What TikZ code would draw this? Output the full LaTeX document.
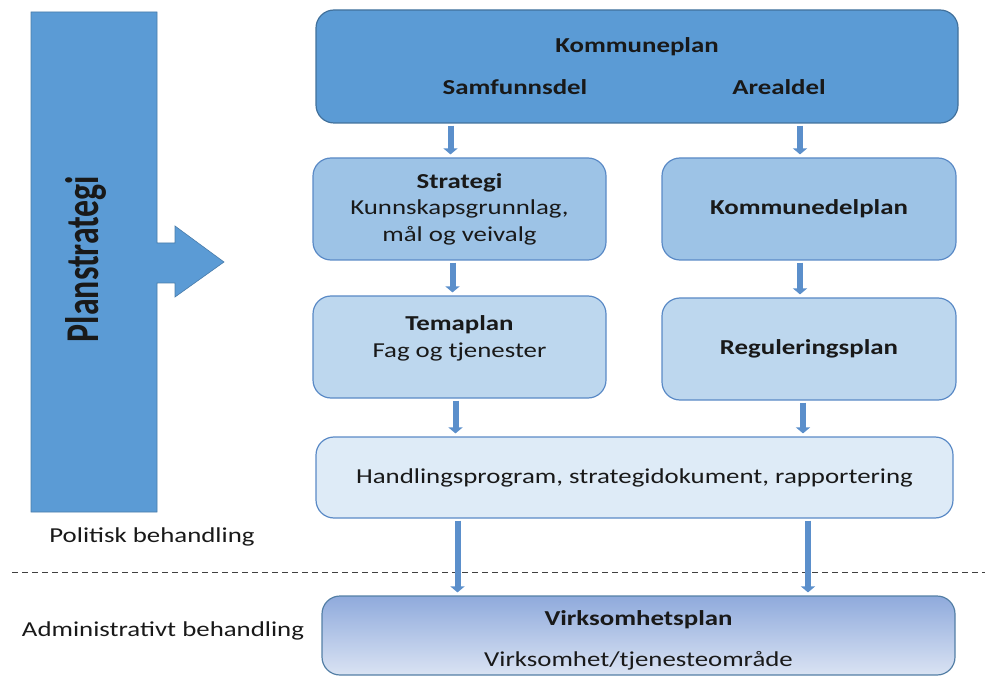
\documentclass[tikz,border=0pt]{standalone}
\usepackage{fontspec}
\setmainfont{Carlito}[FakeStretch=1.26]
\newfontfamily\planfont{Carlito}
\usetikzlibrary{arrows.meta}

\definecolor{kpblue}{HTML}{5B9BD5}
\definecolor{kpline}{HTML}{41719C}
\definecolor{midblue}{HTML}{9DC3E6}
\definecolor{lightblue}{HTML}{BDD7EE}
\definecolor{paleblue}{HTML}{DEEBF7}
\definecolor{boxline}{HTML}{5A8AC6}
\definecolor{pilblue}{HTML}{5B8FCB}
\definecolor{vtop}{HTML}{8FAADC}
\definecolor{vbot}{HTML}{DAE3F3}

\begin{document}
\begin{tikzpicture}[x=1pt,y=-1pt,
            every node/.style={font=\fontsize{21.3}{26.5}\selectfont, text=black!90},
            planbox/.style={draw=boxline, line width=1.2pt, rounded corners=18pt, align=center},
            pil/.style={draw=pilblue, line width=6pt, -{Triangle[width=14pt,length=6pt]}, shorten <=2pt, shorten >=3pt},
            ]
            \useasboundingbox (0,0) rectangle (985,676);
            \clip (0,0) rectangle (985,676);

            % venstre pil
            \filldraw[fill=kpblue, draw=kpblue!80!black, line width=0.6pt]
                (31,12) -- (157,12) -- (157,243) -- (175,243) -- (175,226) -- (224,262)
                -- (175,297) -- (175,283) -- (157,283) -- (157,512) -- (31,512) -- cycle;
            \node[rotate=90, font=\fontsize{47}{47}\planfont\bfseries] (ps) at (86,259) {\scalebox{0.72}[1]{Planstrategi}};

            \node[planbox, fill=kpblue, draw=kpline, minimum width=642pt, minimum height=113pt] (kp) at (637,66.5) {};
            \node[font=\fontsize{21.3}{26.5}\selectfont\bfseries] (kptxt) at (637,47) {Kommuneplan};
            \node[font=\fontsize{21.3}{26.5}\selectfont\bfseries] (samf) at (515,87) {Samfunnsdel};
            \node[font=\fontsize{21.3}{26.5}\selectfont\bfseries] (areal) at (779,87) {Arealdel};

            \node[planbox, fill=midblue, minimum width=293pt, minimum height=102pt] (strat) at (459.5,209)
                {\textbf{Strategi}\\Kunnskapsgrunnlag,\\mål og veivalg};
            \node[planbox, fill=midblue, minimum width=294pt, minimum height=102pt] (kdp) at (809,209)
                {\textbf{Kommunedelplan}};

            \node[planbox, fill=lightblue, minimum width=293pt, minimum height=102pt] (tema) at (459.5,347) {};
            \node[align=center] (tematxt) at ([yshift=8.5pt]tema.center) {\textbf{Temaplan}\\Fag og tjenester};
            \node[planbox, fill=lightblue, minimum width=294pt, minimum height=102pt] (reg) at (809,349)
                {\textbf{Reguleringsplan}};

            \node[planbox, fill=paleblue, minimum width=637pt, minimum height=81pt] (hp) at (634.5,477.5)
                {Handlingsprogram, strategidokument, rapportering};

            \node[planbox, draw=kpline!90, top color=vtop, bottom color=vbot, minimum width=633pt, minimum height=79pt] (vp) at (638.5,635.5) {};
            \node[align=center] (vptxt) at ([yshift=-5pt]vp.center) {\textbf{Virksomhetsplan}\\[15pt]Virksomhet/tjenesteområde};

            \node (pol) at (152,537) {Politisk behandling};
            \node (adm) at (163,631) {Administrativt behandling};

            \coordinate (dl) at (12,572);
            \coordinate (dr) at (985,572);
            \draw[black!75, line width=1pt, dash pattern=on 6pt off 4pt] (dl) -- (dr);

            \draw[pil] ([xshift=-9pt]kp.south -| strat) -- ([xshift=-9pt]strat.north);
            \draw[pil] ([xshift=-9pt]kp.south -| kdp) -- ([xshift=-9pt]kdp.north);
            \draw[pil] ([xshift=-7pt]strat.south) -- ([xshift=-7pt]tema.north);
            \draw[pil] ([xshift=-9pt]kdp.south) -- ([xshift=-9pt]reg.north);
            \draw[pil] ([xshift=-4pt]tema.south) -- ([xshift=-4pt]hp.north -| tema);
            \draw[pil] ([xshift=-6pt]reg.south) -- ([xshift=-6pt]hp.north -| reg);
            \draw[pil] ([xshift=-2pt]hp.south -| tema) -- ([xshift=-2pt]vp.north -| tema);
            \draw[pil] ([xshift=-1pt]hp.south -| reg) -- ([xshift=-1pt]vp.north -| reg);
        \end{tikzpicture}
\end{document}
